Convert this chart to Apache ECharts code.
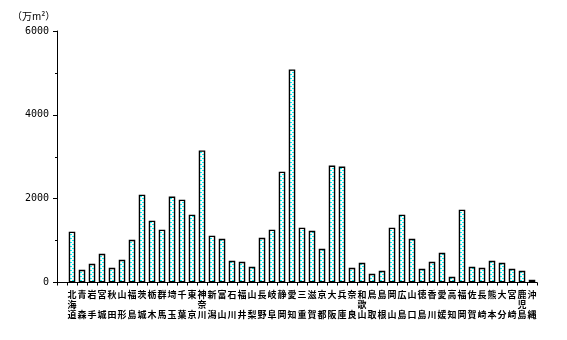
<!DOCTYPE html>
<html>
<head>
<meta charset="utf-8">
<script src="https://cdn.jsdelivr.net/npm/echarts@6/dist/echarts.min.js"></script>
<style>html,body{margin:0;padding:0;background:#fff;}#c{width:567px;height:340px;}</style>
</head>
<body>
<div id="c"></div>
<script>
var prefectures = ['北海道','青森','岩手','宮城','秋田','山形','福島','茨城','栃木','群馬','埼玉','千葉','東京','神奈川','新潟','富山','石川','福井','山梨','長野','岐阜','静岡','愛知','三重','滋賀','京都','大阪','兵庫','奈良','和歌山','鳥取','島根','岡山','広島','山口','徳島','香川','愛媛','高知','福岡','佐賀','長崎','熊本','大分','宮崎','鹿児島','沖縄'];
var values = [1212,303,447,686,351,542,1020,2096,1475,1260,2049,1977,1618,3150,1116,1044,518,494,375,1068,1260,2645,5083,1307,1235,805,2789,2765,351,471,208,280,1307,1618,1044,327,494,710,136,1738,375,351,518,471,327,280,65];
var yTicks = [0,2000,4000,6000];
var unitLabel = '（万m²）';

// dotted cyan fill pattern
var pc = document.createElement('canvas');
pc.width = 4; pc.height = 4;
var px = pc.getContext('2d');
px.fillStyle = '#ffffff'; px.fillRect(0,0,4,4);
px.fillStyle = '#00ffff';
px.fillRect(0,0,2,1);
px.fillRect(2,2,2,1);

var cats = [''].concat(prefectures);
var vals = [null].concat(values);

var chart = echarts.init(document.getElementById('c'), null, {renderer:'canvas'});
chart.setOption({
  backgroundColor: '#ffffff',
  animation: false,
  grid: {left: 57, right: 30, top: 31, bottom: 57.5},
  graphic: [{
    type: 'text', left: 12, top: 11,
    style: {text: unitLabel, font: '10px "Noto Sans CJK JP"', fill: '#000'}
  }],
  xAxis: {
    type: 'category',
    data: cats,
    boundaryGap: true,
    axisLine: {lineStyle: {color: '#000', width: 1}},
    axisTick: {show: true, length: 3, interval: 0, lineStyle: {color: '#000'}},
    axisLabel: {
      interval: 0, margin: 7, color: '#000',
      fontFamily: 'Noto Sans CJK JP', fontSize: 9, fontWeight: 'bold', lineHeight: 10,
      formatter: function (v) {
        var ch = v.split('');
        if (ch.length === 2) return ch[0] + '\n\n' + ch[1];
        return ch.join('\n');
      }
    },
    splitLine: {show: false}
  },
  yAxis: {
    type: 'value',
    min: yTicks[0], max: yTicks[yTicks.length-1], interval: 2000,
    axisLine: {show: true, lineStyle: {color: '#000', width: 1}},
    axisTick: {show: true, length: 4, lineStyle: {color: '#000'}},
    minorTick: {show: true, splitNumber: 2, length: 2, lineStyle: {color: '#000'}},
    axisLabel: {margin: 8, color: '#000', fontFamily: 'DejaVu Sans Mono', fontSize: 10,
      formatter: function (v) { return String(v); }},
    splitLine: {show: false}
  },
  series: [{
    type: 'bar',
    data: vals,
    barWidth: 6.5,
    itemStyle: {
      color: {image: pc, repeat: 'repeat'},
      borderColor: '#000', borderWidth: 1.4
    }
  }]
});
</script>
</body>
</html>
